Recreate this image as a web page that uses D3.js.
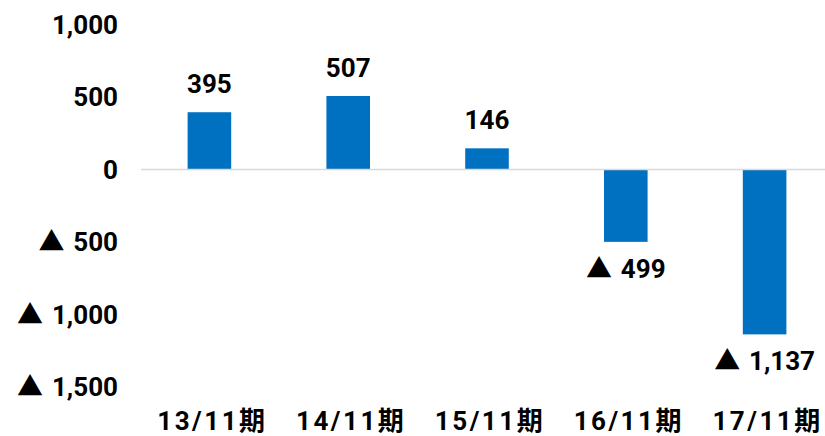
<!DOCTYPE html>
<html>
<head>
<meta charset="utf-8">
<script src="https://cdn.jsdelivr.net/npm/d3@7"></script>
<style>
  body { margin: 0; background: #fff; }
  text { font-family: Roboto, "Noto Sans CJK JP", sans-serif; font-weight: 700; fill: #000; }
  .cat { letter-spacing: 2.5px; }
</style>
</head>
<body>
<div id="chart"></div>
<script>
var categories = ["13/11期", "14/11期", "15/11期", "16/11期", "17/11期"]
var values = [395, 507, 146, -499, -1137]
var tickValues = [1000, 500, 0, -500, -1000, -1500]

var width = 825, height = 436

function fmt(v) {
    var s = d3.format(",")(Math.abs(v))
    return v < 0 ? "▲\u2004" + s : s
}

var svg = d3.select("#chart").append("svg").attr("width", width).attr("height", height)

var x = d3.scaleBand().domain(categories).range([140, 834]).paddingInner(0.686).paddingOuter(0.343)
var y = d3.scaleLinear().domain([-1500, 1000]).range([387, 24.5])

// y tick labels (no axis line)
svg.append("g").selectAll("text").data(tickValues).enter().append("text")
    .attr("x", 118).attr("y", function (d) { return y(d) }).attr("dy", "0.36em")
    .attr("text-anchor", "end").attr("font-size", 26)
    .text(fmt)

// bars
svg.append("g").selectAll("rect").data(values).enter().append("rect")
    .attr("x", function (d, i) { return x(categories[i]) })
    .attr("width", x.bandwidth())
    .attr("y", function (d) { return y(Math.max(0, d)) })
    .attr("height", function (d) { return Math.abs(y(d) - y(0)) })
    .attr("fill", "#0070C0")

// zero line
svg.append("line").attr("x1", 141).attr("x2", width).attr("y1", y(0)).attr("y2", y(0))
    .attr("stroke", "#d9d9d9").attr("stroke-width", 1.5)

// data labels
svg.append("g").selectAll("text").data(values).enter().append("text")
    .attr("x", function (d, i) { return x(categories[i]) + x.bandwidth() / 2 })
    .attr("y", function (d) { return d >= 0 ? y(d) - 19 : y(d) + 36 })
    .attr("text-anchor", "middle").attr("font-size", 26)
    .text(fmt)

// category labels
svg.append("g").selectAll("text").data(categories).enter().append("text")
    .attr("class", "cat")
    .attr("x", function (d) { return x(d) + x.bandwidth() / 2 + 3 })
    .attr("y", 430)
    .attr("text-anchor", "middle").attr("font-size", 26)
    .text(function (d) { return d })
</script>
</body>
</html>
